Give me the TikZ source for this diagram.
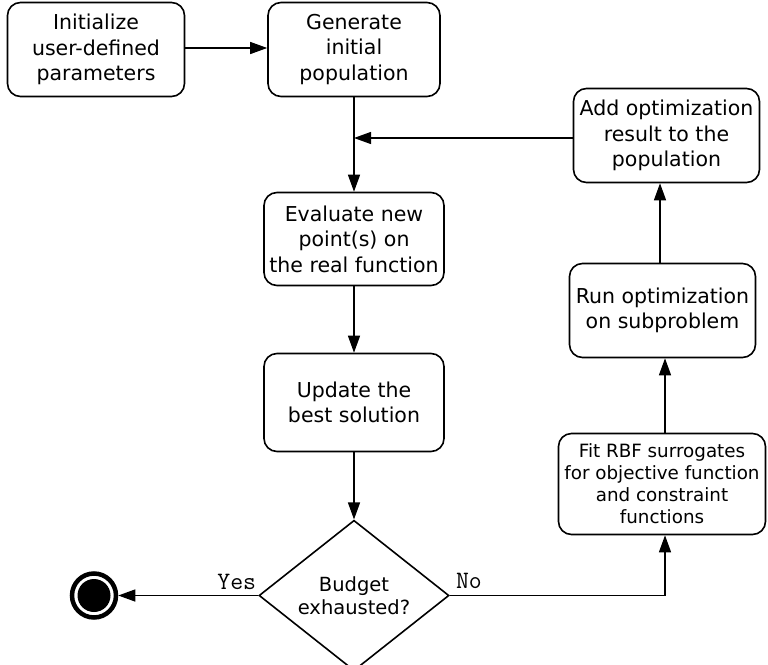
\documentclass[tikz,border=0pt]{standalone}
\usepackage{fontspec}
\setmainfont{DejaVu Sans}
\usetikzlibrary{shapes.geometric,arrows.meta,positioning}
\begin{document}
\begin{tikzpicture}[x=1pt,y=-1pt,
  box/.style={draw,line width=1.6pt,rounded corners=13pt,align=center,inner sep=0pt,
    font=\fontsize{20.5}{25.5}\selectfont},
  smallbox/.style={box,font=\fontsize{18.3}{22}\selectfont},
  decision/.style={draw,diamond,line width=1.6pt,align=center,inner sep=0pt,
    font=\fontsize{19.5}{23}\selectfont},
  conn/.style={line width=1.3pt,-{Triangle[length=17pt,width=12pt]}},
  lbl/.style={font=\ttfamily\fontsize{25}{28}\selectfont,inner sep=0pt}
]
\useasboundingbox (0,0) rectangle (768,664);
\node[box,minimum width=177pt,minimum height=94pt] (init) at (96,49.5) {Initialize\\user-defined\\parameters};
\node[box,minimum width=172pt,minimum height=94pt] (gen) at (354,49.5) {Generate\\initial\\population};
\node[box,minimum width=186pt,minimum height=94pt] (add) at (666.5,135.5) {Add optimization\\result to the\\population};
\node[box,minimum width=180pt,minimum height=93pt] (eval) at (354,239) {Evaluate new\\point(s) on\\the real function};
\node[box,minimum width=180pt,minimum height=98pt] (upd) at (354,402.5) {Update the\\best solution};
\node[box,minimum width=186pt,minimum height=94pt] (run) at (662.5,310.5) {Run optimization\\on subproblem};
\node[smallbox,minimum width=207pt,minimum height=101pt] (fit) at (662,484) {Fit RBF surrogates\\for objective function\\and constraint\\functions};
\node[decision,minimum width=190pt,minimum height=127pt] (dec) at (354,595.5) {Budget\\exhausted?};
\node[circle,draw,line width=4.5pt,minimum size=44pt,inner sep=0pt] (end) at (94,595.5) {};
\fill (end.center) circle (16.5pt);

\coordinate (merge) at (354,138);
\coordinate (turn) at (665,0 |- dec.east);

\draw[conn] (init.east |- 0,48) -- (gen.west |- 0,48);
\draw[conn] (gen.south) -- (eval.north);
\draw[conn] (add.west |- merge) -- (merge);
\draw[conn] (eval.south) -- (upd.north);
\draw[conn] (upd.south) -- (dec.north);
\draw[conn] (dec.west) -- (end.east);
\draw[conn] (dec.east) -- (turn) -- (turn |- fit.south);
\draw[conn] (turn |- fit.north) -- (turn |- run.south);
\draw[conn] (660,0 |- run.north) -- (660,0 |- add.south);

\node[lbl,anchor=base east] (yes) at ([xshift=-2pt,yshift=6pt]dec.west) {Yes};
\node[lbl,anchor=base west] (no) at ([xshift=6pt,yshift=7pt]dec.east) {No};
\end{tikzpicture}
\end{document}
